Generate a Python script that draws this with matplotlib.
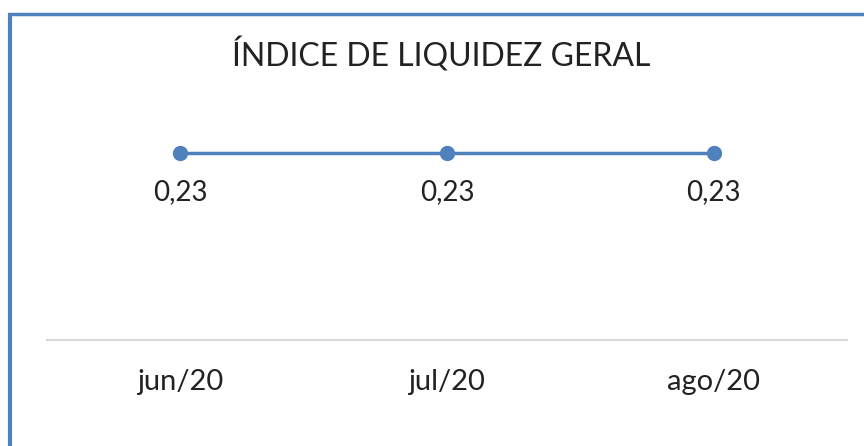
import matplotlib.pyplot as plt
from matplotlib.lines import Line2D

categories = ["jun/20", "jul/20", "ago/20"]
values = [0.23, 0.23, 0.23]
labels = ["0,23", "0,23", "0,23"]

W, H = 864, 446
fig = plt.figure(figsize=(W / 100, H / 100), dpi=100)
plt.rcParams['font.family'] = ['Lato', 'DejaVu Sans']

# plot area: x 47..847, baseline at y=340
ax = fig.add_axes([47 / W, 1 - 340 / H, 800 / W, 244 / H])
x = list(range(len(categories)))
ax.plot(x, values, color='#4F81BD', lw=2.5, marker='o', ms=10)
ax.set_xlim(-0.5, len(categories) - 0.5)
ax.set_ylim(0, 0.3)
for xi, v, lab in zip(x, values, labels):
    ax.annotate(lab, (xi, v), xytext=(0, -28), textcoords='offset points',
                ha='center', va='center', fontsize=20, color='#222222')

for s in ['top', 'right', 'left']:
    ax.spines[s].set_visible(False)
ax.spines['bottom'].set_color('#D9D9D9')
ax.spines['bottom'].set_linewidth(1.5)
ax.set_yticks([])
ax.set_xticks(x)
ax.set_xticklabels(categories, fontsize=21, color='#222222')
ax.tick_params(axis='x', length=0, pad=21)

fig.text(441 / W, 1 - 55 / H, "ÍNDICE DE LIQUIDEZ GERAL", ha='center', va='center',
         fontsize=23, color='#222222')

# frame border (left and top)
fig.add_artist(Line2D([9.5 / W, 9.5 / W], [0, 1 - 13 / H], color='#4F81BD', lw=3,
                      transform=fig.transFigure, solid_capstyle='butt'))
fig.add_artist(Line2D([8 / W, 1], [1 - 14 / H, 1 - 14 / H], color='#4F81BD', lw=2.5,
                      transform=fig.transFigure, solid_capstyle='butt'))

fig.savefig('out.png', dpi=100)
